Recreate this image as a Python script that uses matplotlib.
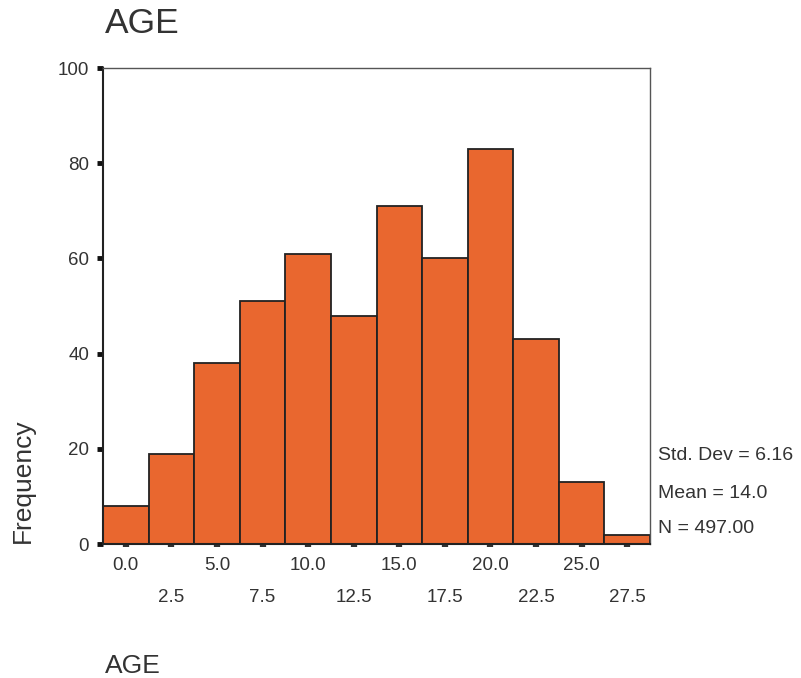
import numpy as np
import matplotlib
matplotlib.use("Agg")
import matplotlib.pyplot as plt

plt.rcParams['font.family'] = ['Liberation Sans', 'DejaVu Sans']

# histogram bins (centres) and counts
bin_centers = [0.0, 2.5, 5.0, 7.5, 10.0, 12.5, 15.0, 17.5, 20.0, 22.5, 25.0, 27.5]
counts = [8, 19, 38, 51, 61, 48, 71, 60, 83, 43, 13, 2]
bin_width = 2.5
y_ticks = [0, 20, 40, 60, 80, 100]
stats_lines = ["Std. Dev = 6.16", "Mean = 14.0", "N = 497.00"]

bar_color = "#E9672F"
text_color = "#333333"

fig = plt.figure(figsize=(8.01, 6.78), dpi=100)
ax = fig.add_axes([0.1286, 0.1976, 0.6829, 0.7021])

ax.bar(bin_centers, counts, width=bin_width, color=bar_color,
       edgecolor="#222222", linewidth=1.3, zorder=2)

ax.set_xlim(bin_centers[0] - bin_width / 2, bin_centers[-1] + bin_width / 2)
ax.set_ylim(0, 100)

# spines: dark left/bottom, thin grey top/right
for side in ["left", "bottom"]:
    ax.spines[side].set_color("#222222")
    ax.spines[side].set_linewidth(1.5)
for side in ["top", "right"]:
    ax.spines[side].set_color("#555555")
    ax.spines[side].set_linewidth(1.0)

# y ticks
ax.set_yticks(y_ticks)
ax.set_yticklabels([str(v) for v in y_ticks])
ax.tick_params(axis="y", direction="out", length=4, width=3.5,
               color="#111111", labelsize=13.5, labelcolor=text_color, pad=6)

# x ticks: alternate labels in two rows
major = bin_centers[0::2]
minor = bin_centers[1::2]
ax.set_xticks(major)
ax.set_xticklabels([f"{v:.1f}" for v in major])
ax.set_xticks(minor, minor=True)
ax.set_xticklabels([f"{v:.1f}" for v in minor], minor=True)
ax.tick_params(axis="x", which="both", direction="out", length=2.5, width=4.5,
               color="#333333", labelsize=13.5, labelcolor=text_color)
ax.tick_params(axis="x", which="major", pad=7)
ax.tick_params(axis="x", which="minor", pad=30)

# titles and labels
fig.text(0.131, 0.9513, "AGE", fontsize=25.5, color=text_color, va="baseline", ha="left")
fig.text(0.131, 0.0074, "AGE", fontsize=19, color=text_color, va="baseline", ha="left")
fig.text(0.0287, 0.199, "Frequency", fontsize=19, color=text_color,
         rotation=90, ha="center", va="bottom")

# stats box text
stat_y = [0.3215, 0.2655, 0.2139]
for txt, y in zip(stats_lines, stat_y):
    fig.text(0.8215, y, txt, fontsize=14, color=text_color, va="baseline", ha="left")

fig.savefig("out.png", dpi=100)
